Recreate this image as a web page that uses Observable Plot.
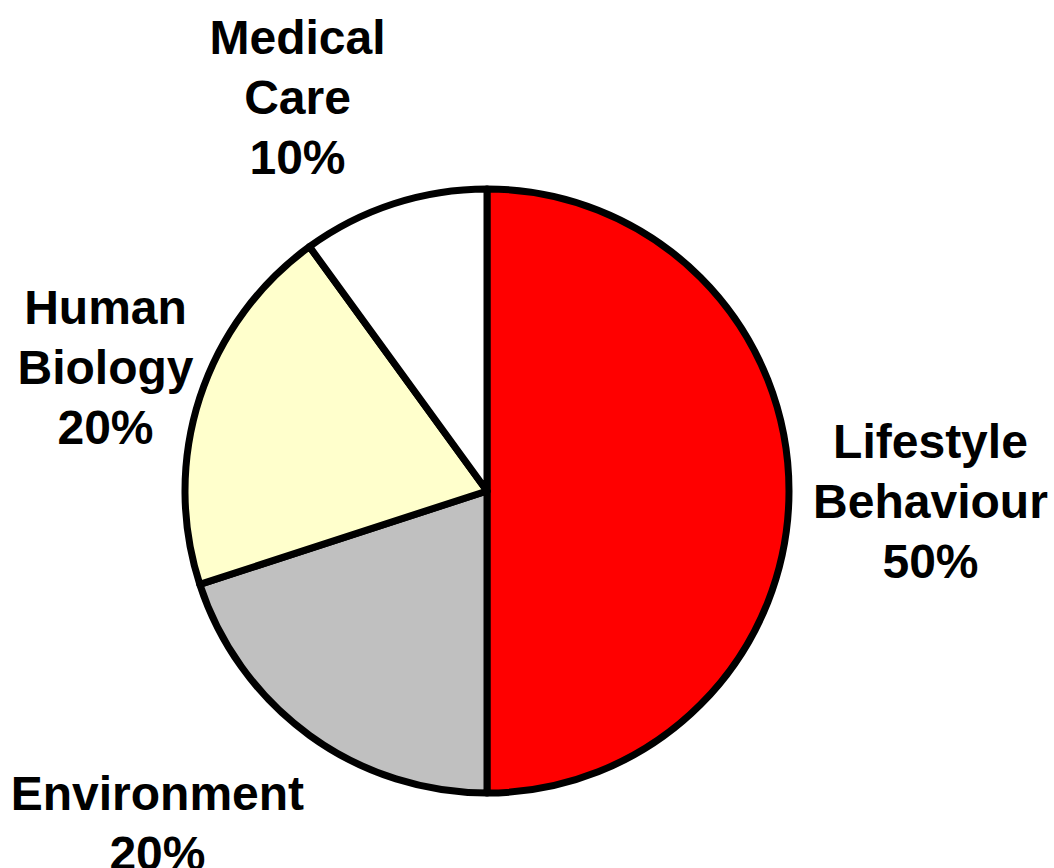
<!DOCTYPE html>
<html>
<head>
<meta charset="utf-8">
<script src="https://cdn.jsdelivr.net/npm/d3@7"></script>
<script src="https://cdn.jsdelivr.net/npm/@observablehq/plot@0.6"></script>
<style>
  html, body { margin: 0; padding: 0; background: #fff; }
</style>
</head>
<body>
<div id="chart"></div>
<script>
// Data
const categories = ["Lifestyle\nBehaviour", "Environment", "Human\nBiology", "Medical\nCare"];
const shares = [50, 20, 20, 10];
const colors = ["#FF0000", "#C0C0C0", "#FFFFCC", "#FFFFFF"];
// Label layout: polar angle (deg, clockwise from top) and distance in radius units
const labelAngle = [90.9, 225.1, 288.4, 334.4];
const labelRadius = [1.467, 1.543, 1.333, 1.456];

const W = 1054, H = 868;
const cx = 487, cy = 491, R = 302;

const slices = categories.map((c, i) => ({ name: c, value: shares[i], color: colors[i] }));
const pie = d3.pie().sort(null).value(d => d.value)(slices);

const labels = categories.map((c, i) => {
  const a = labelAngle[i] * Math.PI / 180;
  return {
    text: `${c}\n${shares[i]}%`,
    x: labelRadius[i] * Math.sin(a),
    y: labelRadius[i] * Math.cos(a)
  };
});

function pieMark(index, scales) {
  const ox = scales.x(0), oy = scales.y(0);
  const r = scales.x(1) - scales.x(0);
  const arc = d3.arc().innerRadius(0).outerRadius(r);
  const g = d3.create("svg:g").attr("transform", `translate(${ox},${oy})`);
  g.selectAll("path")
    .data(pie)
    .join("path")
    .attr("d", arc)
    .attr("fill", d => d.data.color)
    .attr("stroke", "#000")
    .attr("stroke-width", 7)
    .attr("stroke-linejoin", "round");
  return g.node();
}

const chart = Plot.plot({
  width: W,
  height: H,
  margin: 0,
  x: { domain: [-cx / R, (W - cx) / R], axis: null },
  y: { domain: [-(H - cy) / R, cy / R], axis: null },
  style: { background: "#fff" },
  marks: [
    pieMark,
    Plot.text(labels, {
      x: "x",
      y: "y",
      text: "text",
      fontSize: 48,
      fontWeight: "bold",
      fontFamily: "Liberation Sans, Arial, sans-serif",
      lineHeight: 1.25,
      textAnchor: "middle",
      lineAnchor: "middle",
      fill: "#000"
    })
  ]
});
document.getElementById("chart").appendChild(chart);
</script>
</body>
</html>
